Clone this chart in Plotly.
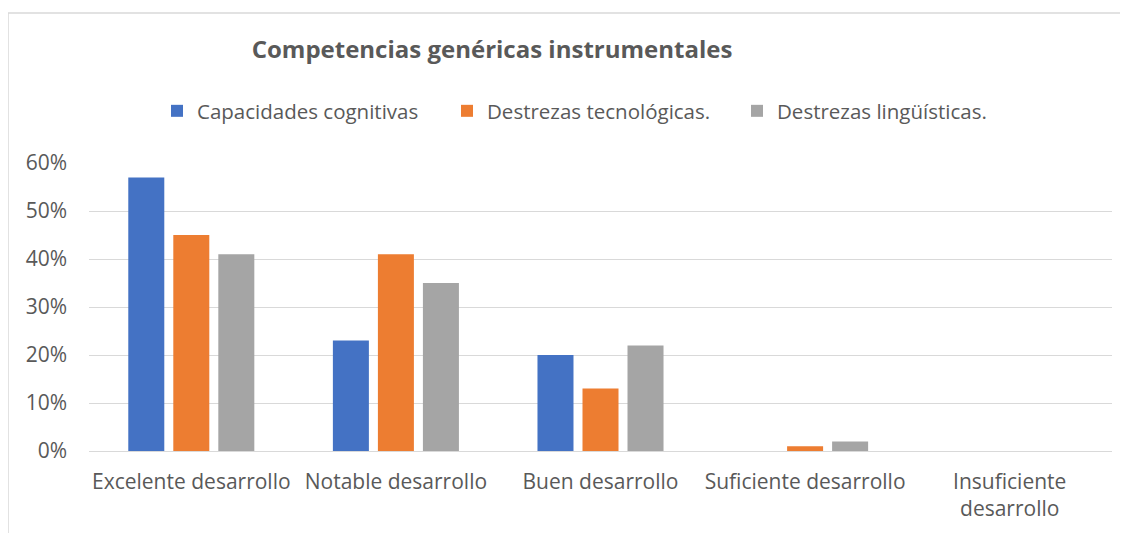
import plotly.graph_objects as go

categories = ["Excelente desarrollo", "Notable desarrollo", "Buen desarrollo",
              "Suficiente desarrollo", "Insuficiente<br>desarrollo"]
series_names = ["Capacidades cognitivas", "Destrezas tecnológicas.", "Destrezas lingüísticas."]
capacidades = [0.57, 0.23, 0.20, 0.0, 0.0]
tecnologicas = [0.45, 0.41, 0.13, 0.01, 0.0]
linguisticas = [0.41, 0.35, 0.22, 0.02, 0.0]
colors = ["#4472C4", "#ED7D31", "#A5A5A5"]
y_ticks = [0, 0.1, 0.2, 0.3, 0.4, 0.5, 0.6]

FONT = "Open Sans"
TXT = "#595959"

fig = go.Figure()
for name, vals, col in zip(series_names, [capacidades, tecnologicas, linguisticas], colors):
    fig.add_trace(go.Bar(x=categories, y=vals, name=name, marker=dict(color=col, line=dict(width=0))))

W, H = 1128, 533
O = 8  # page offset
# target page-pixel positions of plot area
PL, PR, PT, PB = 89, 1112, 163, 451
L, T = PL - O, PT - O
R = W - (PR - O)
B = H - (PB - O)
pw, ph = W - L - R, H - T - B

def px(x):  # page x -> paper
    return (x - O - L) / pw

def py(y):  # page y -> paper
    return (H - B - (y - O)) / ph

def cy(y):  # page y -> container
    return 1 - (y - O) / H

fig.update_layout(
    width=W, height=H,
    margin=dict(l=L, r=R, t=T, b=B),
    paper_bgcolor="white", plot_bgcolor="white",
    barmode="group", bargap=0.34, bargroupgap=0.2,
    font=dict(family=FONT, color=TXT, size=21),
    title=dict(text="<b>Competencias genéricas instrumentales</b>",
               x=px(492), xref="paper", xanchor="center",
               y=cy(50), yref="container", yanchor="middle",
               font=dict(family=FONT, size=24, color=TXT)),
    legend=dict(orientation="h", x=px(157), xanchor="left", y=py(111), yanchor="middle",
                font=dict(family=FONT, size=20.5, color=TXT), bgcolor="rgba(0,0,0,0)",
                traceorder="normal", entrywidth=245, entrywidthmode="pixels"),
    xaxis=dict(showgrid=False, showline=False, ticks="", ticklabelstandoff=16,
               tickfont=dict(size=21, color=TXT)),
    yaxis=dict(range=[0, 0.6], tickvals=y_ticks, tickformat=".0%", showgrid=True,
               gridcolor="#D9D9D9", gridwidth=1, zeroline=True, zerolinecolor="#D9D9D9",
               zerolinewidth=1, showline=False, ticks="", ticklabelstandoff=21,
               tickfont=dict(size=21, color=TXT)),
    shapes=[
        dict(type="line", xref="paper", yref="paper", x0=px(8), x1=px(1135), y0=py(13), y1=py(13),
             line=dict(color="#D9D9D9", width=1.5)),
        dict(type="line", xref="paper", yref="paper", x0=px(8), x1=px(8), y0=py(13), y1=py(545),
             line=dict(color="#D9D9D9", width=1.5)),
    ],
)
fig.write_html("out.html")
